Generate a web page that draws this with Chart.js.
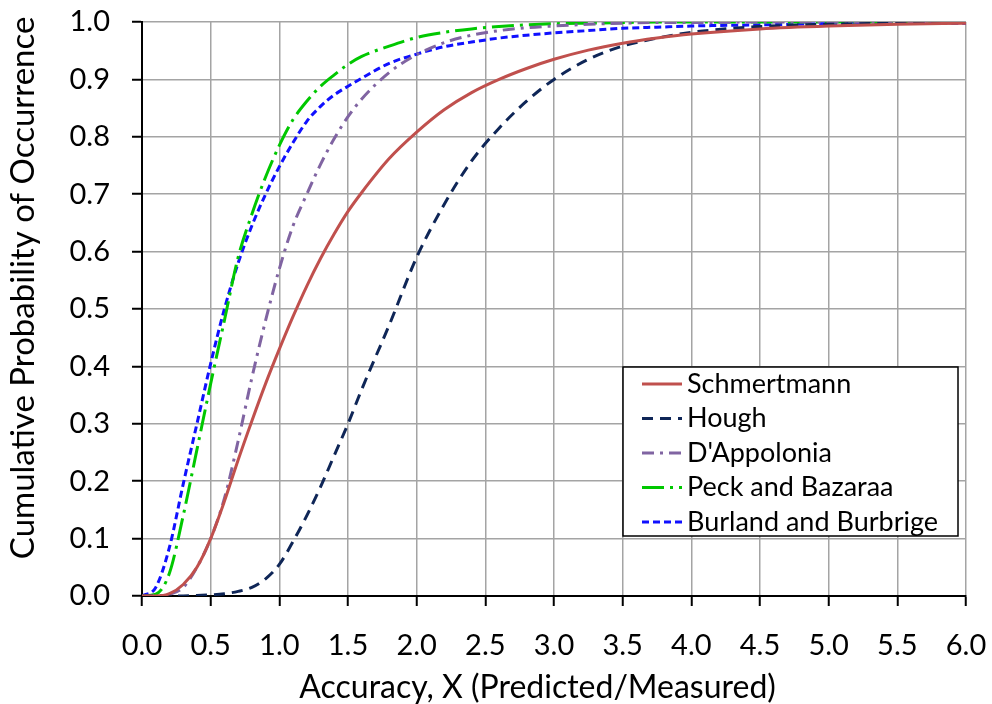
<!DOCTYPE html>
<html>
<head>
<meta charset="utf-8">
<script src="https://cdn.jsdelivr.net/npm/chart.js@4.4.0/dist/chart.umd.min.js"></script>
<style>
  html, body { margin: 0; padding: 0; background: #fff; }
  #wrap { width: 992px; height: 704px; }
</style>
</head>
<body>
<div id="wrap"><canvas id="grafico" width="992" height="704"></canvas></div>
<script>
// valores de X (Predicted/Measured)
var xs = [0, 0.1, 0.2, 0.3, 0.4, 0.5, 0.6, 0.7, 0.8, 0.9, 1.0, 1.1, 1.2, 1.3, 1.4, 1.5, 1.6, 1.8, 2.0, 2.2, 2.4, 2.6, 2.8, 3.0, 3.25, 3.5, 3.75, 4.0, 4.5, 5.0, 5.5, 6.0];

// probabilidades acumuladas
var schmertmann = [0, 0, 0.004, 0.02, 0.05, 0.10, 0.165, 0.237, 0.305, 0.37, 0.43, 0.487, 0.54, 0.588, 0.631, 0.67, 0.703, 0.762, 0.808, 0.847, 0.877, 0.90, 0.919, 0.935, 0.951, 0.963, 0.972, 0.979, 0.988, 0.993, 0.996, 0.998];
var hough       = [0, 0, 0, 0, 0.001, 0.002, 0.004, 0.008, 0.015, 0.03, 0.055, 0.095, 0.14, 0.19, 0.245, 0.30, 0.36, 0.472, 0.59, 0.682, 0.758, 0.815, 0.862, 0.90, 0.935, 0.958, 0.972, 0.982, 0.992, 0.996, 0.998, 0.999];
var dappolonia  = [0, 0, 0.003, 0.015, 0.05, 0.10, 0.17, 0.27, 0.38, 0.48, 0.57, 0.645, 0.70, 0.752, 0.797, 0.835, 0.866, 0.912, 0.943, 0.964, 0.977, 0.985, 0.99, 0.993, 0.996, 0.998, 0.999, 0.999, 1.0, 1.0, 1.0, 1.0];
var peck        = [0, 0.003, 0.04, 0.14, 0.255, 0.37, 0.48, 0.59, 0.665, 0.73, 0.785, 0.83, 0.862, 0.888, 0.908, 0.926, 0.94, 0.958, 0.973, 0.982, 0.988, 0.992, 0.995, 0.997, 0.998, 0.999, 1.0, 1.0, 1.0, 1.0, 1.0, 1.0];
var burland     = [0, 0.015, 0.085, 0.195, 0.30, 0.405, 0.50, 0.58, 0.645, 0.70, 0.748, 0.79, 0.827, 0.853, 0.873, 0.888, 0.902, 0.928, 0.944, 0.957, 0.965, 0.972, 0.977, 0.981, 0.985, 0.989, 0.991, 0.993, 0.995, 0.997, 0.998, 0.998];

var nomes = ['Schmertmann', 'Hough', "D'Appolonia", 'Peck and Bazaraa', 'Burland and Burbrige'];
var cores = ['#C0504D', '#0F2657', '#8064A2', '#00C800', '#1010FF'];
var tracos = [[], [11, 7], [12, 6, 3, 6], [22, 6, 3, 6], [7, 4]];
var series = [schmertmann, hough, dappolonia, peck, burland];

var fonte = "Lato, 'Open Sans', sans-serif";

function pontos(ys) {
    return xs.map(function (x, i) { return { x: x, y: ys[i] }; });
}

var datasets = series.map(function (ys, i) {
    return {
        label: nomes[i],
        data: pontos(ys),
        borderColor: cores[i],
        backgroundColor: cores[i],
        borderWidth: 3,
        borderDash: tracos[i],
        showLine: true,
        pointRadius: 0,
        cubicInterpolationMode: 'monotone',
        fill: false
    };
});

// legenda desenhada dentro da area do grafico
var legendaCaixa = {
    id: 'legendaCaixa',
    afterDraw: function (chart) {
        var ctx = chart.ctx;
        var left = 623, top = 367, w = 335, h = 169;
        ctx.save();
        ctx.fillStyle = '#fff';
        ctx.fillRect(left, top, w, h);
        ctx.strokeStyle = '#000';
        ctx.lineWidth = 1.5;
        ctx.strokeRect(left, top, w, h);
        ctx.font = '27px ' + fonte;
        ctx.textBaseline = 'middle';
        for (var i = 0; i < nomes.length; i++) {
            var y = top + 17 + i * 34.5;
            ctx.strokeStyle = cores[i];
            ctx.lineWidth = 3;
            ctx.setLineDash(tracos[i]);
            ctx.beginPath();
            ctx.moveTo(left + 19, y);
            ctx.lineTo(left + 59, y);
            ctx.stroke();
            ctx.setLineDash([]);
            ctx.fillStyle = '#000';
            ctx.fillText(nomes[i], left + 64, y);
        }
        ctx.restore();
    }
};

new Chart(document.getElementById('grafico'), {
    type: 'scatter',
    data: { datasets: datasets },
    options: {
        responsive: false,
        animation: false,
        layout: { padding: { top: 0, right: 0, left: 4, bottom: 0 } },
        plugins: {
            legend: { display: false },
            tooltip: { enabled: false }
        },
        scales: {
            x: {
                type: 'linear',
                min: 0,
                max: 6,
                afterFit: function (scale) {
                    scale.height = 108;
                    scale.paddingLeft = 0;
                    scale.paddingRight = 26;
                },
                border: { color: '#000', width: 2 },
                grid: { color: '#A4A4A4', lineWidth: 1.5, tickColor: '#000', tickLength: 10, tickWidth: 2 },
                ticks: {
                    stepSize: 0.5,
                    color: '#000',
                    padding: 22,
                    maxRotation: 0,
                    font: { family: fonte, size: 29 },
                    callback: function (v) { return Number(v).toFixed(1); }
                },
                title: {
                    display: true,
                    text: 'Accuracy, X (Predicted/Measured)    ',
                    color: '#000',
                    font: { family: fonte, size: 32, lineHeight: 1.0 },
                    padding: { top: 0, bottom: 0 }
                }
            },
            y: {
                min: 0,
                max: 1,
                afterFit: function (scale) {
                    scale.width = 138;
                    scale.paddingTop = 22;
                    scale.paddingBottom = 0;
                },
                border: { color: '#000', width: 2 },
                grid: { color: '#A4A4A4', lineWidth: 1.5, tickColor: '#000', tickLength: 10, tickWidth: 2 },
                ticks: {
                    stepSize: 0.1,
                    color: '#000',
                    padding: 22,
                    font: { family: fonte, size: 29 },
                    callback: function (v) { return Number(v).toFixed(1); }
                },
                title: {
                    display: true,
                    text: '     Cumulative Probability of Occurrence',
                    color: '#000',
                    font: { family: fonte, size: 33 },
                    padding: { top: 0, bottom: 0 }
                }
            }
        }
    },
    plugins: [legendaCaixa]
});
</script>
</body>
</html>
